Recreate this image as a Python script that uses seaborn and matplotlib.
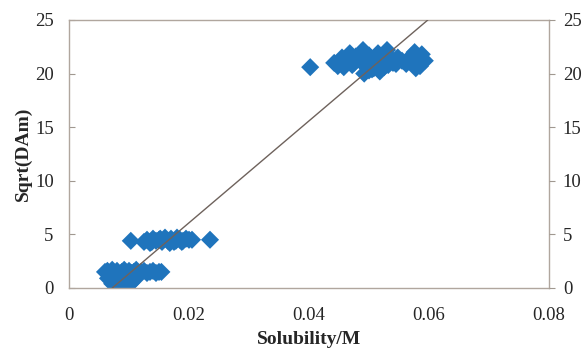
import numpy as np
import pandas as pd
import seaborn as sns
import matplotlib.pyplot as plt

# solubility (M) and sqrt(DAm)
low_x = [0.0060, 0.0064, 0.0068, 0.0072, 0.0076, 0.0080, 0.0084, 0.0088, 0.0092, 0.0096,
         0.0100, 0.0104, 0.0108, 0.0112, 0.0116, 0.0120, 0.0125, 0.0130, 0.0135, 0.0140,
         0.0145, 0.0150, 0.0154, 0.0065, 0.0070, 0.0075, 0.0080, 0.0085, 0.0090, 0.0095,
         0.0100, 0.0105, 0.0110, 0.0072, 0.0080, 0.0088, 0.0096, 0.0104]
low_y = [1.5, 1.6, 1.3, 1.7, 1.4, 1.6, 1.2, 1.5, 1.7, 1.3,
         1.6, 1.4, 1.5, 1.7, 1.3, 1.5, 1.6, 1.4, 1.5, 1.6,
         1.4, 1.5, 1.5, 0.9, 0.7, 1.0, 0.6, 0.9, 0.8, 1.0,
         0.7, 0.9, 0.8, 0.4, 0.3, 0.5, 0.4, 0.5]

mid_x = [0.0103, 0.0125, 0.0130, 0.0135, 0.0140, 0.0145, 0.0150, 0.0155, 0.0160, 0.0165,
         0.0170, 0.0175, 0.0180, 0.0185, 0.0190, 0.0195, 0.0200, 0.0205, 0.0138, 0.0152,
         0.0168, 0.0178, 0.0188, 0.0235]
mid_y = [4.4, 4.3, 4.5, 4.2, 4.6, 4.4, 4.5, 4.3, 4.7, 4.4,
         4.6, 4.3, 4.7, 4.5, 4.4, 4.6, 4.5, 4.5, 4.3, 4.6,
         4.2, 4.4, 4.3, 4.5]

high_x = [0.0402, 0.0442, 0.0448, 0.0455, 0.0462, 0.0468, 0.0472, 0.0478, 0.0485, 0.0490,
          0.0495, 0.0500, 0.0505, 0.0510, 0.0515, 0.0520, 0.0525, 0.0530, 0.0535, 0.0540,
          0.0548, 0.0555, 0.0562, 0.0570, 0.0576, 0.0582, 0.0588, 0.0593, 0.0458, 0.0475,
          0.0492, 0.0500, 0.0508, 0.0518, 0.0532, 0.0545, 0.0578, 0.0585]
high_y = [20.6, 21.0, 20.7, 21.5, 21.1, 21.9, 20.8, 21.6, 21.2, 22.2,
          21.0, 21.7, 20.4, 21.3, 21.9, 21.1, 20.6, 22.2, 21.5, 21.0,
          21.5, 21.2, 20.9, 21.6, 22.0, 21.3, 21.8, 21.2, 20.6, 21.0,
          20.0, 20.3, 20.5, 20.2, 20.8, 20.9, 20.5, 20.7]

# straight trend line through the data
line_x = [0.0072, 0.0598]
line_y = [0.0, 25.0]

df = pd.DataFrame({"sol": low_x + mid_x + high_x, "dam": low_y + mid_y + high_y})

sns.set_style("white")
plt.rcParams["font.family"] = ["Liberation Serif", "DejaVu Serif"]

fig = plt.figure(figsize=(5.87, 3.52), dpi=100)
ax = fig.add_axes([69 / 587, 1 - 288 / 352, 480 / 587, 268 / 352])

sns.scatterplot(data=df, x="sol", y="dam", marker="D", s=85, color="#1f74bc",
                edgecolor="none", ax=ax, zorder=2)
sns.lineplot(x=line_x, y=line_y, color="#6e625c", linewidth=1.0, ax=ax, zorder=3)

ax.set_xlim(0, 0.08)
ax.set_ylim(0, 25)
ax.set_xticks([0, 0.02, 0.04, 0.06, 0.08])
ax.set_xticklabels(["0", "0.02", "0.04", "0.06", "0.08"])
ax.set_yticks([0, 5, 10, 15, 20, 25])
ax.tick_params(axis="x", direction="in", length=4, color="#a09890", labelsize=13.5, pad=14)
ax.tick_params(axis="y", direction="in", length=4, color="#a09890", labelsize=13.5, pad=11)
ax.set_xlabel("Solubility/M", fontsize=14, fontweight="bold", labelpad=5)
ax.set_ylabel("Sqrt(DAm)", fontsize=14, fontweight="bold", labelpad=2)
for sp in ax.spines.values():
    sp.set_color("#b0a69e")
    sp.set_linewidth(1.0)

# right-hand axis repeats the y scale
ax2 = ax.twinx()
ax2.set_ylim(0, 25)
ax2.set_yticks([0, 5, 10, 15, 20, 25])
ax2.tick_params(axis="y", direction="out", length=4, color="#a09890", labelsize=13.5, pad=6)
for sp in ax2.spines.values():
    sp.set_visible(False)

fig.savefig("out.png", dpi=100)
